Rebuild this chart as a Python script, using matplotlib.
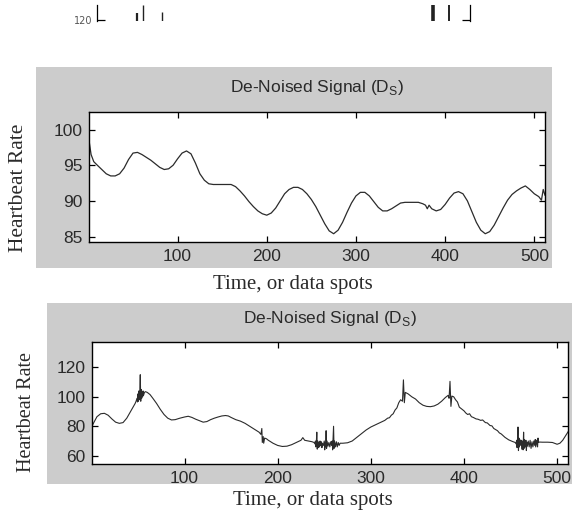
import matplotlib
matplotlib.use("Agg")
import matplotlib.pyplot as plt
from matplotlib.patches import Rectangle

# ---------------- data ----------------
top_x = [1, 3, 6, 10, 15, 20, 25, 30, 35, 40, 45, 50, 55, 60, 65, 70, 75, 80, 85, 90,
         95, 100, 105, 110, 115, 120, 125, 130, 135, 140, 150, 160, 165, 170, 175, 180,
         185, 190, 195, 200, 205, 210, 215, 220, 225, 230, 235, 240, 245, 250, 255, 260,
         265, 270, 275, 280, 285, 290, 295, 300, 305, 310, 315, 320, 325, 330, 335, 340,
         345, 350, 355, 360, 365, 370, 375, 378, 380, 382, 385, 390, 395, 400, 405, 410,
         415, 420, 425, 430, 435, 440, 445, 450, 455, 460, 465, 470, 475, 480, 485, 490,
         495, 500, 505, 508, 510, 512]
top_y = [98.2, 96.5, 95.5, 95.0, 94.4, 93.8, 93.5, 93.5, 93.8, 94.6, 95.8, 96.7, 96.8,
         96.5, 96.1, 95.7, 95.2, 94.7, 94.4, 94.5, 95.0, 95.9, 96.7, 97.0, 96.6, 95.3,
         93.8, 92.9, 92.4, 92.3, 92.3, 92.3, 92.0, 91.4, 90.7, 89.9, 89.2, 88.6, 88.2,
         88.0, 88.3, 89.0, 90.0, 91.0, 91.6, 91.9, 91.9, 91.6, 91.0, 90.2, 89.2, 88.0,
         86.8, 85.8, 85.4, 85.9, 87.0, 88.4, 89.7, 90.7, 91.2, 91.2, 90.7, 89.9, 89.1,
         88.6, 88.6, 88.9, 89.3, 89.7, 89.8, 89.8, 89.8, 89.8, 89.6, 89.4, 88.9, 89.4,
         88.9, 88.6, 88.8, 89.5, 90.4, 91.1, 91.3, 91.0, 90.0, 88.5, 87.0, 85.9, 85.4,
         85.7, 86.6, 87.8, 89.0, 90.1, 90.9, 91.4, 91.8, 92.1, 91.6, 91.0, 90.6, 90.1,
         91.6, 90.8]

# bottom signal: smooth stretches
bot_base_x = [1, 3, 6, 10, 14, 18, 22, 26, 30, 34, 38, 42, 45,
              58, 60, 63, 66, 70, 74, 78, 82, 86, 90, 95, 100, 104, 108, 112, 116, 120,
              124, 128, 132, 136, 140, 144, 147, 150, 155, 160, 165, 170, 175, 180, 182,
              183, 183.5, 184.5, 185, 186, 188, 190, 195, 200, 205, 210, 215, 220, 225,
              227, 229, 233, 237,
              270, 275, 280, 285, 290, 295, 300, 305, 310, 315, 318, 320, 322, 324, 326,
              328, 330, 332, 334, 335, 336, 337, 340, 344, 348, 352, 356, 360, 364, 368,
              372, 376, 380, 383, 384, 385, 386, 387, 389, 391, 393, 395, 398, 400, 402,
              404, 406, 408, 410, 413, 415, 418, 420, 423, 425, 428, 430, 432, 436, 438,
              440, 444, 448, 452,
              484, 490, 495, 500, 503, 506, 509, 512]
bot_base_y = [80.5, 83, 86.5, 88.5, 88.8, 87.5, 85, 82.8, 82, 82.5, 85.5, 90, 93.5,
              103.5, 103, 101.5, 99, 95.5, 91.5, 88, 85.5, 84.3, 84.5, 85.5, 86.3, 86.8,
              86, 84.8, 83.8, 82.8, 83.2, 84.5, 85.5, 86.3, 87, 87.3, 87, 86, 84.5, 83.5,
              82, 80, 78, 76, 74.5, 78.5, 69, 73, 68.5, 72, 71.5, 70.5, 68.5, 67, 66.3,
              66.5, 67.5, 69, 70.5, 72.3, 70.5, 70, 69.5,
              68.5, 68.8, 70, 72.5, 75, 77.5, 79.5, 81, 82.5, 84, 85.5, 85.8, 87.5, 88.5,
              91, 92.5, 96, 98, 97, 111.5, 96, 103, 102, 100, 98.5, 96, 94.3, 93.5, 93.3,
              93.8, 95, 97, 99.5, 101, 99, 110.5, 93.5, 100.5, 100, 98, 96.5, 93, 91.5,
              90.5, 89, 88, 88.5, 86.5, 86, 85, 84.8, 84, 84.3, 82.5, 82.3, 80.5, 80.3,
              78.5, 77, 75.5, 74.8, 72.5, 70.8, 69.7,
              69.2, 69.2, 69, 67.8, 68.5, 70.5, 73.5, 76.5]

# bottom signal: noisy bursts
burst1_x = [46, 47, 48, 49, 49.5, 50, 50.5, 51, 51.5, 52, 52.5, 53, 53.5, 54, 54.5, 55,
            55.5, 56, 57]
burst1_y = [94.5, 95.5, 97, 99, 96.5, 102, 97, 104, 98, 103, 115, 97, 105, 99, 103, 100,
            104, 101, 103]
burst2_x = [239, 240, 240.5, 241, 241.5, 242, 242.5, 243, 243.5, 244, 245, 245.5, 246,
            247, 247.5, 248, 249, 250, 250.5, 251, 251.5, 252, 252.5, 253, 254, 255, 256,
            257, 258, 258.5, 259, 259.5, 260, 260.5, 261, 262, 263, 264, 265, 266, 267,
            268]
burst2_y = [69, 68, 70, 66, 69, 76, 64.5, 70, 65.5, 69, 66, 70, 67, 69.5, 65.5, 68.5, 67,
            70, 64, 69, 66, 77, 65, 70, 66.5, 69, 66, 69.5, 67, 70, 64, 72, 80, 65, 70, 66,
            69.5, 66, 69, 67, 68.5, 68.5]
burst3_x = [455, 456, 456.5, 457, 457.5, 458, 458.5, 459, 459.5, 460, 461, 461.5, 462,
            463, 463.5, 464, 464.5, 465, 466, 466.5, 467, 467.5, 468, 469, 470, 471, 472,
            473, 474, 475, 476, 476.5, 477, 478, 479, 479.5, 480, 481]
burst3_y = [69, 68, 70.5, 65.5, 71, 79.5, 63.5, 72, 66, 71, 67, 70.5, 64.5, 70, 64, 76,
            65, 71, 66, 70.5, 63.5, 69, 66.5, 70, 66, 70.5, 65, 69.5, 66, 70, 67, 71, 66,
            70.5, 66, 72, 69, 69.3]

top_xticks = [100, 200, 300, 400, 500]
top_yticks = [85, 90, 95, 100]
bot_xticks = [100, 200, 300, 400, 500]
bot_yticks = [60, 80, 100, 120]

# fragment of a previous chart, cut off at the very top of the page
frag_spike_x = [56, 64, 90, 461, 483]
frag_spike_top = [123.5, 127.5, 124.0, 127.5, 127.5]
frag_spike_w = [1.6, 1.0, 1.0, 2.6, 1.4]

title_txt = r'De-Noised Signal (D$_\mathregular{S}$)'
xlabel_txt = 'Time, or data spots'
ylabel_txt = 'Heartbeat Rate'

# merge the bottom signal pieces in time order
pairs = sorted(list(zip(bot_base_x, bot_base_y)) + list(zip(burst1_x, burst1_y))
               + list(zip(burst2_x, burst2_y)) + list(zip(burst3_x, burst3_y)))
bot_x = [p[0] for p in pairs]
bot_y = [p[1] for p in pairs]

# ---------------- layout ----------------
W, H = 572, 514
fig = plt.figure(figsize=(W / 100, H / 100), dpi=100)
fig.patch.set_facecolor('white')

GRAY = '#cccccc'
LINE = '#2b2b2b'
TXT = '#2a2a2a'
SANS = ['Liberation Sans', 'DejaVu Sans']
SERIF = ['Liberation Serif', 'DejaVu Serif']


def fx(px):
    return px / W


def fy(py):
    return 1 - py / H


def px_axes(l, t, r, b, **kw):
    return fig.add_axes([l / W, 1 - b / H, (r - l) / W, (b - t) / H], **kw)


def gray_box(l, t, r, b):
    fig.add_artist(Rectangle((fx(l), fy(b)), (r - l) / W, (b - t) / H,
                             transform=fig.transFigure, facecolor=GRAY,
                             edgecolor='none', zorder=0))


def style_axes(ax, xticks, yticks, xlim, ylim):
    ax.set_facecolor('white')
    ax.set_xlim(*xlim)
    ax.set_ylim(*ylim)
    ax.set_xticks(xticks)
    ax.set_yticks(yticks)
    ax.tick_params(direction='in', length=4, width=0.9, top=True, right=True,
                   labelsize=12.5, colors='black', labelcolor=TXT, pad=5)
    for lab in ax.get_xticklabels() + ax.get_yticklabels():
        lab.set_family(SANS)
    for s in ax.spines.values():
        s.set_linewidth(1.0)
        s.set_color('black')


# gray figure backgrounds
gray_box(35.7, 67.3, 551.7, 268.3)
gray_box(47.3, 303.3, 572.5, 484.3)

# top panel
ax1 = px_axes(89.3, 111.7, 545.0, 242.3)
ax1.plot(top_x, top_y, color=LINE, lw=0.9)
style_axes(ax1, top_xticks, top_yticks, (1, 512), (84.2, 102.5))
ax1.set_title(title_txt, fontsize=12.5, family=SANS, color=TXT, pad=14)

# bottom panel
ax2 = px_axes(92.3, 342.3, 568.3, 464.0)
ax2.plot(bot_x, bot_y, color=LINE, lw=0.8)
style_axes(ax2, bot_xticks, bot_yticks, (1, 512), (54.4, 137))
ax2.set_title(title_txt, fontsize=12.5, family=SANS, color=TXT, pad=14)

# labels written on the page, outside the gray figures
fig.text(fx(293), fy(285), xlabel_txt, ha='center', va='center',
         fontsize=15, family=SERIF, color=TXT)
fig.text(fx(313), fy(500), xlabel_txt, ha='center', va='center',
         fontsize=15, family=SERIF, color=TXT)
fig.text(fx(19), fy(188), ylabel_txt, ha='center', va='center', rotation=90,
         fontsize=15.5, family=SERIF, color=TXT)
fig.text(fx(27), fy(412), ylabel_txt, ha='center', va='center', rotation=90,
         fontsize=14.5, family=SERIF, color=TXT)

# remnant of the previous chart at the top edge
ax0 = px_axes(97, 5, 470, 21)
ax0.set_xlim(1, 512)
ax0.set_ylim(119.5, 127.5)
ax0.vlines(frag_spike_x, 119.5, frag_spike_top, colors='#222222',
           linewidths=frag_spike_w)
ax0.set_xticks([])
ax0.set_yticks([120])
ax0.set_yticklabels(['120'])
ax0.tick_params(axis='y', direction='in', length=6, width=0.9, right=True,
                labelsize=7, pad=3, labelcolor='#555555')
for s in ('top', 'bottom'):
    ax0.spines[s].set_visible(False)
for s in ('left', 'right'):
    ax0.spines[s].set_linewidth(0.9)
ax0.patch.set_alpha(0)

fig.savefig('out.png', dpi=100, facecolor='white')
